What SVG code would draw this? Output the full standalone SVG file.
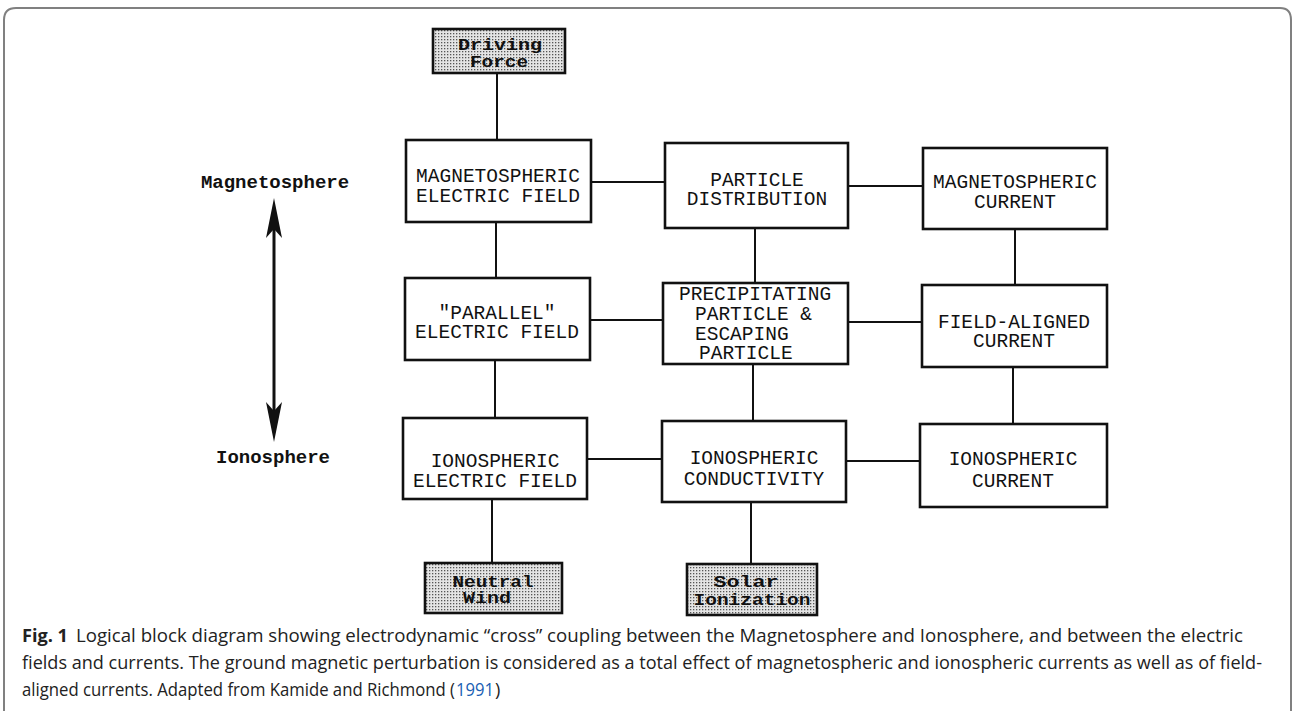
<svg xmlns="http://www.w3.org/2000/svg" width="1293" height="711" viewBox="0 0 1293 711">
<defs>
<style>
.box{fill:#fff;stroke:#111;stroke-width:2.6}
.sh{fill:url(#dots);stroke:#111;stroke-width:2.6}
.t{font-family:"Liberation Mono",monospace;font-size:19.5px;fill:#111}
.tc{text-anchor:middle}
.tb{font-family:"Liberation Mono",monospace;font-size:16px;font-weight:bold;fill:#111;text-anchor:middle}
.lb{font-family:"Liberation Mono",monospace;font-size:19px;font-weight:bold;fill:#111;text-anchor:middle}
.ln{stroke:#111;stroke-width:2;fill:none}
.cap{font-family:"Open Sans","Noto Sans",sans-serif;font-size:18px;fill:#222}
.link{fill:#1a5fb4}
</style>
<pattern id="dots" width="3" height="3" patternUnits="userSpaceOnUse">
<rect width="3" height="3" fill="#e4e4e4"/>
<rect x="0" y="0" width="1.3" height="1.3" fill="#555"/>
</pattern>
</defs>
<rect width="1293" height="711" fill="#fff"/>
<path d="M4 711 L4 20 Q4 8 16 8 L1280 8 Q1291 8 1291 20 L1291 711" fill="none" stroke="#808080" stroke-width="2"/>

<g id="connectors">
<line class="ln" x1="497" y1="73" x2="497" y2="140"/>
<line class="ln" x1="591" y1="182" x2="665" y2="182"/>
<line class="ln" x1="848" y1="186" x2="923" y2="186"/>
<line class="ln" x1="496" y1="222" x2="496" y2="278"/>
<line class="ln" x1="755" y1="228" x2="755" y2="283"/>
<line class="ln" x1="1015" y1="229" x2="1015" y2="285"/>
<line class="ln" x1="590" y1="320" x2="663" y2="320"/>
<line class="ln" x1="848" y1="322" x2="922" y2="322"/>
<line class="ln" x1="495" y1="360" x2="495" y2="418"/>
<line class="ln" x1="753" y1="364" x2="753" y2="421"/>
<line class="ln" x1="1013" y1="367" x2="1013" y2="424"/>
<line class="ln" x1="587" y1="459" x2="662" y2="459"/>
<line class="ln" x1="846" y1="461" x2="920" y2="461"/>
<line class="ln" x1="492" y1="499" x2="492" y2="563"/>
<line class="ln" x1="751" y1="502" x2="751" y2="564"/>
<g id="updown-arrow" fill="#111">
<line x1="274" y1="225" x2="274" y2="415" stroke="#111" stroke-width="3"/>
<path d="M274 198 L282 238 L274 229 L266 238 Z"/>
<path d="M274 442 L282 402 L274 411 L266 402 Z"/>
</g>
</g>

<g id="driving-force">
<rect class="sh" x="433" y="29" width="132" height="44"/>
<text class="tb" x="500" y="50" textLength="84" lengthAdjust="spacingAndGlyphs">Driving</text>
<text class="tb" x="499" y="67" textLength="58" lengthAdjust="spacingAndGlyphs">Force</text>
</g>

<g id="mag-electric-field">
<rect class="box" x="406" y="140" width="185" height="82"/>
<text class="t tc" x="498" y="182">MAGNETOSPHERIC</text>
<text class="t tc" x="498" y="202">ELECTRIC FIELD</text>
</g>

<g id="particle-distribution">
<rect class="box" x="665" y="143" width="183" height="85"/>
<text class="t tc" x="757" y="186">PARTICLE</text>
<text class="t tc" x="757" y="205">DISTRIBUTION</text>
</g>

<g id="mag-current">
<rect class="box" x="923" y="148" width="184" height="81"/>
<text class="t tc" x="1015" y="188">MAGNETOSPHERIC</text>
<text class="t tc" x="1015" y="208">CURRENT</text>
</g>

<g id="parallel-electric-field">
<rect class="box" x="405" y="278" width="185" height="82"/>
<text class="t tc" x="497" y="319">"PARALLEL"</text>
<text class="t tc" x="497" y="338">ELECTRIC FIELD</text>
</g>

<g id="precipitating-particle">
<rect class="box" x="663" y="283" width="185" height="81"/>
<text class="t" x="679" y="300">PRECIPITATING</text>
<text class="t" x="695" y="320">PARTICLE &amp;</text>
<text class="t" x="695" y="340">ESCAPING</text>
<text class="t" x="699" y="359">PARTICLE</text>
</g>

<g id="field-aligned-current">
<rect class="box" x="922" y="285" width="185" height="82"/>
<text class="t tc" x="1014" y="328">FIELD-ALIGNED</text>
<text class="t tc" x="1014" y="347">CURRENT</text>
</g>

<g id="iono-electric-field">
<rect class="box" x="403" y="418" width="184" height="81"/>
<text class="t tc" x="495" y="467">IONOSPHERIC</text>
<text class="t tc" x="495" y="487">ELECTRIC FIELD</text>
</g>

<g id="iono-conductivity">
<rect class="box" x="662" y="421" width="184" height="81"/>
<text class="t tc" x="754" y="464">IONOSPHERIC</text>
<text class="t tc" x="754" y="485">CONDUCTIVITY</text>
</g>

<g id="iono-current">
<rect class="box" x="920" y="424" width="187" height="83"/>
<text class="t tc" x="1013" y="465">IONOSPHERIC</text>
<text class="t tc" x="1013" y="487">CURRENT</text>
</g>

<g id="neutral-wind">
<rect class="sh" x="425" y="563" width="137" height="50"/>
<text class="tb" x="493" y="587" textLength="81" lengthAdjust="spacingAndGlyphs">Neutral</text>
<text class="tb" x="487" y="603" textLength="48" lengthAdjust="spacingAndGlyphs">Wind</text>
</g>

<g id="solar-ionization">
<rect class="sh" x="687" y="564" width="130" height="51"/>
<text class="tb" x="746" y="587" textLength="65" lengthAdjust="spacingAndGlyphs">Solar</text>
<text class="tb" x="752" y="605" textLength="117" lengthAdjust="spacingAndGlyphs">Ionization</text>
</g>

<g id="labels">
<text class="lb" x="275" y="188">Magnetosphere</text>
<text class="lb" x="273" y="463">Ionosphere</text>
</g>

<g id="caption">
<text class="cap" x="22" y="642" font-weight="bold" textLength="46" lengthAdjust="spacingAndGlyphs">Fig. 1</text>
<text class="cap" x="76" y="642" textLength="1167" lengthAdjust="spacingAndGlyphs">Logical block diagram showing electrodynamic “cross” coupling between the Magnetosphere and Ionosphere, and between the electric</text>
<text class="cap" x="22" y="669" textLength="1240" lengthAdjust="spacingAndGlyphs">fields and currents. The ground magnetic perturbation is considered as a total effect of magnetospheric and ionospheric currents as well as of field-</text>
<text class="cap" x="22" y="696" textLength="433" lengthAdjust="spacingAndGlyphs">aligned currents. Adapted from Kamide and Richmond (</text>
<text class="cap link" x="456" y="696" textLength="38" lengthAdjust="spacingAndGlyphs">1991</text>
<text class="cap" x="495" y="696">)</text>
</g>
</svg>
